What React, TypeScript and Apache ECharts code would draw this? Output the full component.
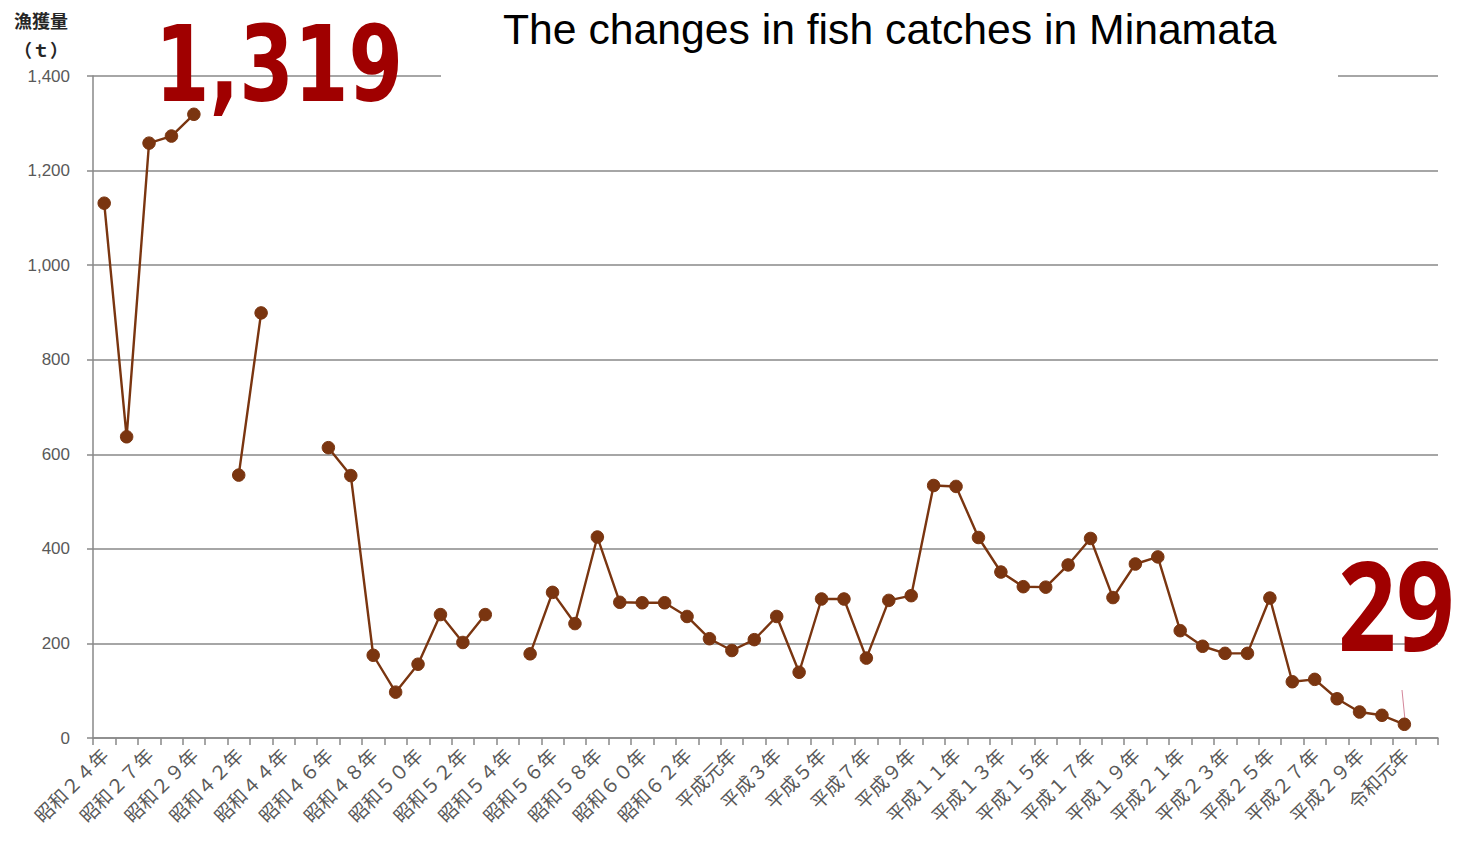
import React, { useEffect, useRef } from "react";
import * as echarts from "echarts";

const categories: string[] = [
  "昭和２４年", "昭和２５年", "昭和２７年", "昭和２８年", "昭和２９年", "昭和４１年",
  "昭和４２年", "昭和４３年", "昭和４４年", "昭和４５年", "昭和４６年", "昭和４７年",
  "昭和４８年", "昭和４９年", "昭和５０年", "昭和５１年", "昭和５２年", "昭和５３年",
  "昭和５４年", "昭和５５年", "昭和５６年", "昭和５７年", "昭和５８年", "昭和５９年",
  "昭和６０年", "昭和６１年", "昭和６２年", "昭和６３年", "平成元年", "平成２年",
  "平成３年", "平成４年", "平成５年", "平成６年", "平成７年", "平成８年",
  "平成９年", "平成１０年", "平成１１年", "平成１２年", "平成１３年", "平成１４年",
  "平成１５年", "平成１６年", "平成１７年", "平成１８年", "平成１９年", "平成２０年",
  "平成２１年", "平成２２年", "平成２３年", "平成２４年", "平成２５年", "平成２６年",
  "平成２７年", "平成２８年", "平成２９年", "平成３０年", "令和元年", "令和２年",
];

const catches: (number | null)[] = [
  1131, 637, 1258, 1273, 1319, null,
  556, 899, null, null, 614, 555,
  175, 97, 156, 261, 202, 261,
  null, 178, 308, 242, 425, 287,
  286, 286, 257, 210, 185, 208,
  257, 139, 294, 294, 169, 291,
  301, 534, 532, 424, 351, 320,
  319, 366, 422, 297, 368, 383,
  227, 194, 179, 179, 296, 119,
  124, 83, 55, 48, 29, null,
];

const yTicks = { min: 0, max: 1400, interval: 200 };
const titleText = "The changes in fish catches in Minamata";
const peakLabel = "1,319";
const lastLabel = "29";
const yName = "漁獲量";
const yUnit = "（ｔ）";

export default function App() {
  const ref = useRef<HTMLDivElement>(null);
  useEffect(() => {
    if (!ref.current) return;
    const chart = echarts.init(ref.current, undefined, { renderer: "svg" });
    const axisGray = "#898989";
    const labelGray = "#595959";
    chart.setOption({
      animation: false,
      backgroundColor: "#ffffff",
      grid: { left: 93, right: 20, top: 76, bottom: 103, containLabel: false },
      xAxis: {
        type: "category",
        data: categories,
        boundaryGap: true,
        axisLine: { show: true, lineStyle: { color: axisGray, width: 1.5 } },
        axisTick: { show: true, interval: 0, length: 7, lineStyle: { color: axisGray, width: 1.5 } },
        axisLabel: {
          interval: 1,
          rotate: 45,
          fontSize: 19,
          color: labelGray,
          fontFamily: "Noto Sans CJK JP",
          margin: 13,
        },
        splitLine: { show: false },
      },
      yAxis: {
        type: "value",
        min: yTicks.min,
        max: yTicks.max,
        interval: yTicks.interval,
        axisLine: { show: true, lineStyle: { color: axisGray, width: 1.5 } },
        axisTick: { show: true, length: 6, lineStyle: { color: axisGray, width: 1.5 } },
        axisLabel: {
          fontSize: 17,
          color: labelGray,
          fontFamily: "Liberation Sans",
          margin: 23,
          formatter: (v: number) => v.toLocaleString("en-US"),
        },
        splitLine: { show: true, lineStyle: { color: axisGray, width: 1.5 } },
      },
      series: [
        {
          type: "line",
          data: catches,
          connectNulls: false,
          symbol: "circle",
          symbolSize: 12.5,
          showAllSymbol: true,
          lineStyle: { color: "#7a3510", width: 2.4 },
          itemStyle: { color: "#7a3510", borderColor: "#7a3510" },
          z: 3,
        },
      ],
      graphic: [
        {
          type: "rect",
          shape: { x: 441, y: 0, width: 897, height: 78 },
          style: { fill: "#ffffff" },
          z: 10,
        },
        {
          type: "text",
          x: 503,
          y: 29,
          z: 11,
          style: {
            text: titleText,
            fontSize: 42.7,
            fontFamily: "Liberation Sans",
            fill: "#000000",
            textAlign: "left",
            textVerticalAlign: "middle",
          },
        },
        {
          type: "text",
          x: 155,
          y: 64,
          scaleX: 0.74,
          z: 12,
          style: {
            text: peakLabel,
            fontSize: 106,
            fontWeight: "bold",
            fontFamily: "DejaVu Sans",
            fill: "#a00000",
            textAlign: "left",
            textVerticalAlign: "middle",
          },
        },
        {
          type: "text",
          x: 1338,
          y: 603,
          scaleX: 0.82,
          z: 12,
          style: {
            text: lastLabel,
            fontSize: 124,
            fontWeight: "bold",
            fontFamily: "Noto Sans",
            fill: "#a00000",
            textAlign: "left",
            textVerticalAlign: "middle",
          },
        },
        {
          type: "line",
          shape: { x1: 1402, y1: 690, x2: 1405, y2: 720 },
          style: { stroke: "#d4869a", lineWidth: 1 },
          z: 2,
        },
        {
          type: "text",
          x: 41,
          y: 20,
          z: 12,
          style: {
            text: yName,
            fontSize: 18,
            fontWeight: "bold",
            fontFamily: "Noto Sans CJK JP",
            fill: "#262626",
            textAlign: "center",
            textVerticalAlign: "middle",
          },
        },
        {
          type: "text",
          x: 41,
          y: 49,
          z: 12,
          style: {
            text: yUnit,
            fontSize: 18,
            fontWeight: "bold",
            fontFamily: "Noto Sans CJK JP",
            fill: "#262626",
            textAlign: "center",
            textVerticalAlign: "middle",
          },
        },
      ],
    });
    return () => chart.dispose();
  }, []);
  return (
    <div
      ref={ref}
      style={{ position: "absolute", left: 0, top: 0, width: 1458, height: 841 }}
    />
  );
}
